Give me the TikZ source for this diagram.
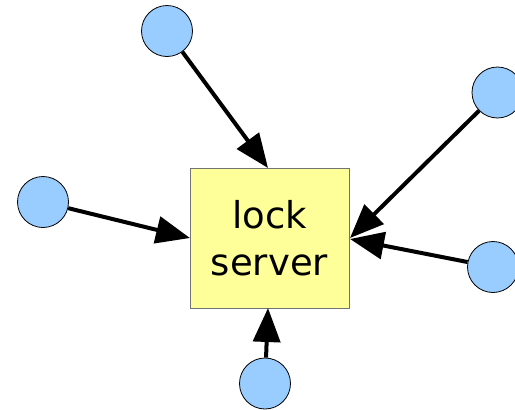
\documentclass[tikz,border=0pt]{standalone}
\usepackage{fontspec}
\setmainfont{DejaVu Sans}
\usetikzlibrary{arrows.meta}
\definecolor{cblue}{HTML}{99CCFF}
\definecolor{cyellow}{HTML}{FFFF99}
\begin{document}
\begin{tikzpicture}[x=1pt,y=-1pt,
  client/.style={circle,draw=black,line width=0.8pt,fill=cblue,minimum size=51pt,inner sep=0pt},
  server/.style={rectangle,draw=black!55,line width=0.8pt,fill=cyellow,minimum width=159pt,minimum height=140pt,inner sep=0pt,align=center,font=\fontsize{37}{47}\selectfont},
  conn/.style={line width=4pt,-{Triangle[length=34pt,width=27pt]},shorten >=0pt}]
\useasboundingbox (0,0) rectangle (515,410);
\node[server] (ls) at (269.5,238) {lock\\server};
\node[client] (c1) at (167,31) {};
\node[client] (c2) at (497.5,92.5) {};
\node[client] (c3) at (43,202) {};
\node[client] (c4) at (493,267) {};
\node[client] (c5) at (265,383.5) {};
\coordinate (t1) at (268,168);
\coordinate (t2) at (350,238);
\coordinate (t3) at (190,238);
\coordinate (t4) at (350,239);
\coordinate (t5) at (268,308);
\draw[conn] (c1) -- (t1);
\draw[conn] (c2) -- (t2);
\draw[conn] (c3) -- (t3);
\draw[conn] (c4) -- (t4);
\draw[conn] (c5) -- (t5);
\end{tikzpicture}
\end{document}
